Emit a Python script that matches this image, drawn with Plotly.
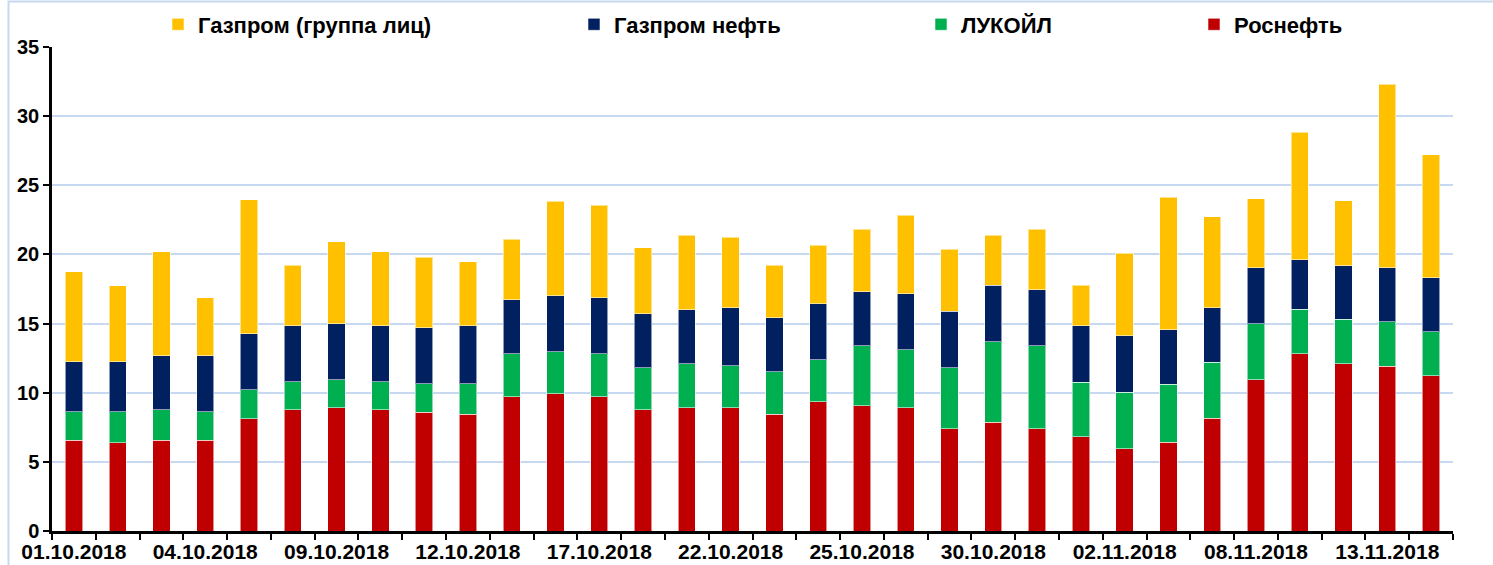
import plotly.graph_objects as go

dates = ["01.10.2018", "02.10.2018", "03.10.2018", "04.10.2018", "05.10.2018",
         "08.10.2018", "09.10.2018", "10.10.2018", "11.10.2018", "12.10.2018",
         "15.10.2018", "16.10.2018", "17.10.2018", "18.10.2018", "19.10.2018",
         "22.10.2018", "23.10.2018", "24.10.2018", "25.10.2018", "26.10.2018",
         "29.10.2018", "30.10.2018", "31.10.2018", "01.11.2018", "02.11.2018",
         "06.11.2018", "07.11.2018", "08.11.2018", "09.11.2018", "12.11.2018",
         "13.11.2018", "14.11.2018"]

rosneft = [6.58, 6.39, 6.58, 6.58, 8.13, 8.76, 8.90, 8.76, 8.59, 8.44,
           9.72, 9.91, 9.72, 8.76, 8.90, 8.90, 8.44, 9.33, 9.04, 8.90,
           7.41, 7.85, 7.41, 6.83, 5.96, 6.42, 8.16, 10.92, 12.81, 12.08,
           11.93, 11.21]
lukoil = [2.03, 2.22, 2.18, 2.03, 2.07, 2.02, 2.05, 2.02, 2.07, 2.20,
          3.09, 3.04, 3.09, 3.03, 3.18, 3.04, 3.06, 3.04, 4.35, 4.20,
          4.38, 5.83, 5.98, 3.94, 4.09, 4.21, 4.06, 4.06, 3.21, 3.22,
          3.22, 3.19]
gazpromneft = [3.62, 3.62, 3.90, 4.05, 4.08, 4.08, 4.05, 4.08, 4.05, 4.22,
               3.90, 4.08, 4.07, 3.91, 3.91, 4.20, 3.91, 4.06, 3.90, 4.05,
               4.09, 4.08, 4.06, 4.09, 4.06, 3.94, 3.92, 4.06, 3.61, 3.89,
               3.89, 3.92]
gazprom_group = [6.53, 5.52, 7.55, 4.22, 9.67, 4.34, 5.90, 5.35, 5.07, 4.60,
                 4.37, 6.83, 6.69, 4.80, 5.40, 5.11, 3.79, 4.24, 4.54, 5.69,
                 4.49, 3.63, 4.38, 2.90, 5.97, 9.58, 6.58, 4.99, 9.21, 4.69,
                 13.26, 8.90]

series = [
    ("Роснефть", rosneft, "#C00000", "legend4"),
    ("ЛУКОЙЛ", lukoil, "#00B050", "legend3"),
    ("Газпром нефть", gazpromneft, "#002060", "legend2"),
    ("Газпром (группа лиц)", gazprom_group, "#FFC000", "legend"),
]

W, H = 1493, 565
L, R, T, B = 52, 40, 47, 34
pw, ph = W - L - R, H - T - B

def px_x(p):
    return (p - L) / pw

def px_y(p):
    return (H - B - p) / ph

idx = list(range(len(dates)))

fig = go.Figure()
for name, vals, color, leg in series:
    fig.add_trace(go.Bar(
        x=idx, y=vals, name=name, legend=leg, showlegend=True,
        marker=dict(color=color, line=dict(color="rgba(255,255,255,0.55)", width=1)),
    ))

font_bold = dict(family="Liberation Sans, Arial, sans-serif", size=20, color="black", weight="bold")
font_leg = dict(font_bold, size=22)

def leg(xpx):
    return dict(x=px_x(xpx), y=px_y(24.5), xanchor="left", yanchor="middle",
                orientation="h", font=font_leg, bgcolor="rgba(0,0,0,0)",
                borderwidth=0, itemclick=False, visible=True)

fig.update_layout(
    width=W, height=H,
    margin=dict(l=L, r=R, t=T, b=B, autoexpand=False),
    showlegend=True,
    barmode="stack", bargap=0.605,
    plot_bgcolor="white", paper_bgcolor="white",
    legend=leg(158), legend2=leg(574), legend3=leg(921), legend4=leg(1194),
    xaxis=dict(
        range=[-0.5, len(dates) - 0.5],
        tickmode="array", tickvals=idx[::3], ticktext=dates[::3],
        ticks="", showgrid=False, tickfont=dict(font_bold, size=21),
        showline=True, linecolor="black", linewidth=2.5,
        minor=dict(tickmode="linear", tick0=-0.5, dtick=1, ticks="outside",
                   ticklen=6, tickwidth=2, tickcolor="black", showgrid=False),
        zeroline=False,
    ),
    yaxis=dict(
        range=[0, 35], tickmode="linear", tick0=0, dtick=5,
        ticks="outside", ticklen=6, tickwidth=2, tickcolor="black",
        tickfont=font_bold,
        showgrid=True, gridcolor="#C6D9F1", gridwidth=2,
        showline=True, linecolor="black", linewidth=2.5,
        zeroline=False,
    ),
    shapes=[dict(type="rect", xref="paper", yref="paper",
                 x0=px_x(8.5), x1=px_x(1500), y0=px_y(575), y1=px_y(1.5),
                 line=dict(color="#C6D9F1", width=2), fillcolor="rgba(0,0,0,0)",
                 layer="below")],
)

fig.write_html("out.html", config={"displayModeBar": False},
               post_script="document.body.style.margin='0';")
